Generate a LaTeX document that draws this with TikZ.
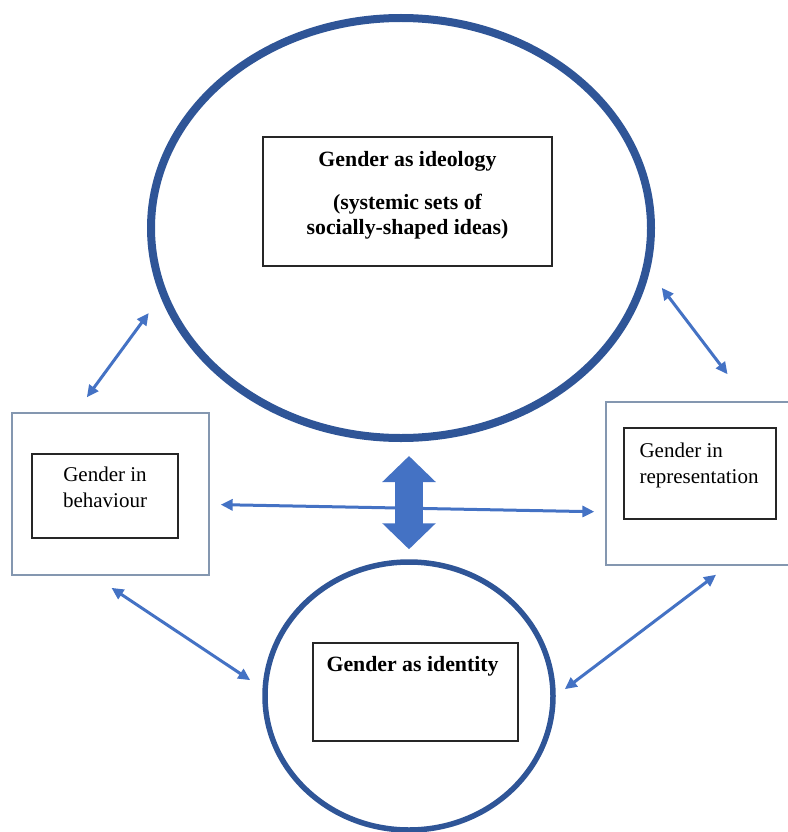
\documentclass[tikz,border=0pt]{standalone}
\usepackage{fontspec}
\setmainfont{Liberation Serif}
\usetikzlibrary{shapes.geometric,arrows.meta,positioning}
\definecolor{ringblue}{RGB}{47,85,151}
\definecolor{arrowblue}{RGB}{68,114,196}
\definecolor{frameblue}{RGB}{132,151,176}

\begin{document}
\begin{tikzpicture}[x=1pt,y=-1pt,
    ring/.style={draw=ringblue,ellipse,inner sep=0pt},
    outerbox/.style={draw=frameblue,line width=1.3pt,inner sep=0pt},
    innerbox/.style={draw=black!85,line width=1.3pt,inner sep=0pt},
    boxtext/.style={inner sep=0pt,font=\fontsize{21}{26.5}\selectfont},
    boldtext/.style={inner sep=0pt,font=\bfseries\fontsize{21.8}{25}\selectfont},
    link/.style={draw=arrowblue,line width=3pt,{Triangle[length=12pt,width=11pt]}-{Triangle[length=12pt,width=11pt]}},
    bigarrow/.style={draw=arrowblue,line width=28pt,{Triangle[length=26pt,width=52pt]}-{Triangle[length=26pt,width=52pt]}}]
                    \useasboundingbox (0,0) rectangle (787,832);

                    \node[ring,line width=8pt,minimum width=500pt,minimum height=420pt] (ideology) at (401,228) {};
                    \node[ring,line width=5.5pt,minimum width=288pt,minimum height=268pt] (identity) at (409,696) {};
                    \node[outerbox,minimum width=197pt,minimum height=162pt] (behaviour) at (110.5,494) {};
                    \node[outerbox,minimum width=197pt,minimum height=163pt] (representation) at (704.5,483.5) {};

                    \node[innerbox,minimum width=289pt,minimum height=129pt] (ideologybox) at (407.5,201.5) {};
                    \node[innerbox,minimum width=146pt,minimum height=84pt] (behaviourbox) at (105,496) {};
                    \node[innerbox,minimum width=152pt,minimum height=91pt] (representationbox) at (700,473.5) {};
                    \node[innerbox,minimum width=205pt,minimum height=98pt] (identitybox) at (415.5,692) {};

                    \node[boldtext,align=center,below=14.7pt of ideologybox.north] (ideologytext) {Gender as ideology\\[18.5pt](systemic sets of\\socially-shaped ideas)};
                    \node[boxtext,align=center,below=13pt of behaviourbox.north] (behaviourtext) {Gender in\\behaviour};
                    \node[boxtext,align=left,below right=15pt and 16pt of representationbox.north west] (representationtext) {Gender in\\representation};
                    \node[boldtext,below right=14pt and 14pt of identitybox.north west] (identitytext) {Gender as identity};

                    \path[link,shorten <=18.6pt,shorten >=20pt] (behaviour.113) -- (ideology.196);
                    \path[link,shorten <=20pt,shorten >=34pt] (ideology.350) -- (representation.62);
                    \path[link,shorten <=11pt,shorten >=11pt] (behaviour.-6) -- (representation.196);
                    \path[link,shorten <=22pt,shorten >=14.7pt] (behaviour.258) -- (identity.177);
                    \path[link,shorten <=15pt,shorten >=11.3pt] (representation.286) -- (identity.0);
                    \path[bigarrow,shorten <=14pt,shorten >=10pt] (ideology.south -| identity.north) -- (identity.north);
                \end{tikzpicture}
\end{document}
